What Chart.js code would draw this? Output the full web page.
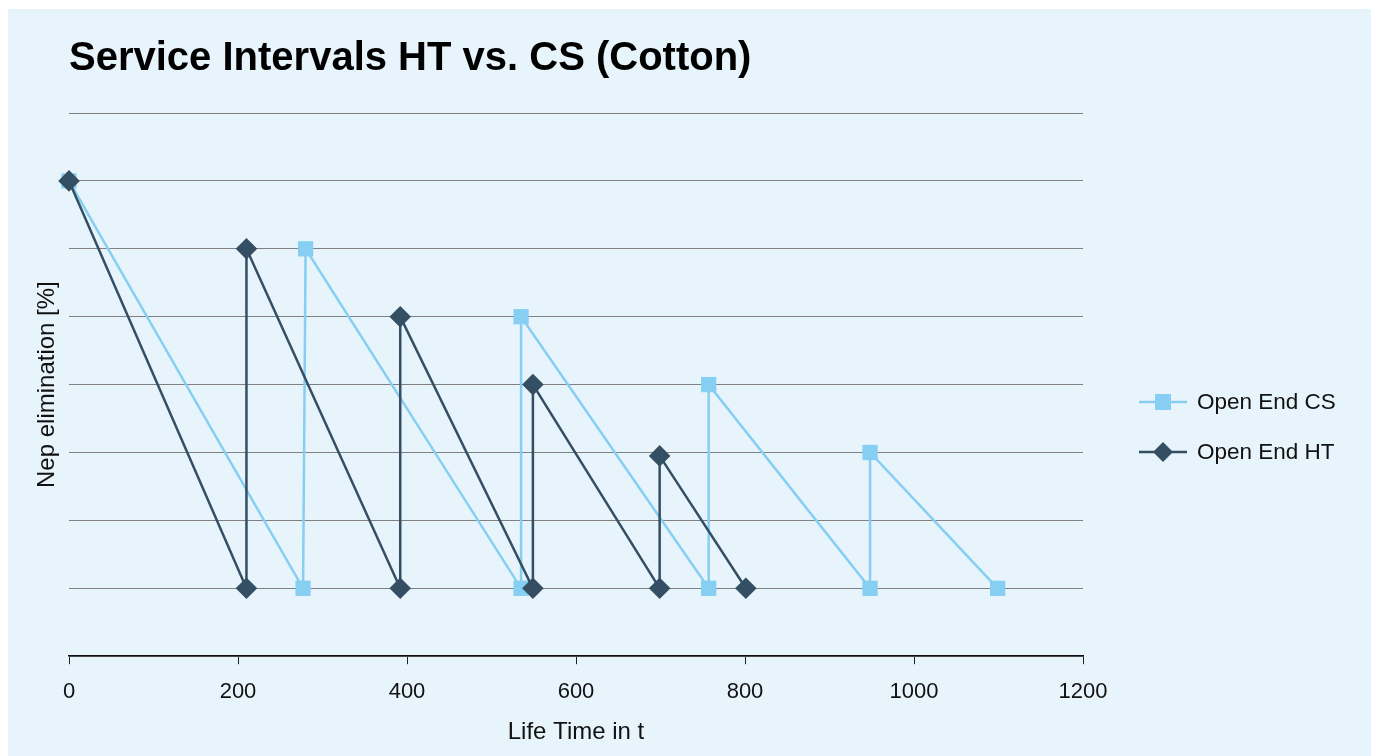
<!DOCTYPE html>
<html>
<head>
<meta charset="utf-8">
<script src="https://cdn.jsdelivr.net/npm/chart.js@4"></script>
<style>
  html, body { margin: 0; padding: 0; background: #ffffff; }
  #box { position: absolute; left: 8px; top: 9px; width: 1363px; height: 747px; background: #e8f4fc; }
</style>
</head>
<body>
<div id="box"><canvas id="chart"></canvas></div>
<script>
// data
const csX = [0, 277, 280, 535, 535, 757, 757, 948, 948, 1099];
const csY = [7, 1, 6, 1, 5, 1, 4, 1, 3, 1];
const htX = [0, 210, 210, 392, 392, 549, 549, 699, 699, 801];
const htY = [7, 1, 6, 1, 5, 1, 4, 1, 2.95, 1];
const seriesNames = ["Open End CS", "Open End HT"];
const xTicks = [0, 200, 400, 600, 800, 1000, 1200];

const csColor = "#86cff2";
const htColor = "#344f63";
const font = "'Liberation Sans', Arial, sans-serif";

const toPoints = (xs, ys) => xs.map((x, i) => ({ x: x, y: ys[i] }));

// legend with line + marker, drawn beside the plot
const sideLegend = {
    id: "sideLegend",
    afterDraw(chart) {
        const ctx = chart.ctx;
        const items = [
            { name: seriesNames[0], color: csColor, shape: "square", y: 393 },
            { name: seriesNames[1], color: htColor, shape: "diamond", y: 443 }
        ];
        ctx.save();
        items.forEach(it => {
            const cx = 1155;
            ctx.strokeStyle = it.color;
            ctx.lineWidth = 2.5;
            ctx.beginPath();
            ctx.moveTo(1131, it.y);
            ctx.lineTo(1179, it.y);
            ctx.stroke();
            ctx.fillStyle = it.color;
            ctx.beginPath();
            if (it.shape === "square") {
                ctx.rect(cx - 8, it.y - 8, 16, 16);
            } else {
                ctx.moveTo(cx, it.y - 10);
                ctx.lineTo(cx + 10, it.y);
                ctx.lineTo(cx, it.y + 10);
                ctx.lineTo(cx - 10, it.y);
                ctx.closePath();
            }
            ctx.fill();
            ctx.fillStyle = "#111";
            ctx.font = "22.5px " + font;
            ctx.textBaseline = "middle";
            ctx.textAlign = "left";
            ctx.fillText(it.name, 1189, it.y + 1);
        });
        ctx.restore();
    }
};

new Chart(document.getElementById("chart"), {
    type: "line",
    data: {
        datasets: [{
            label: seriesNames[0],
            data: toPoints(csX, csY),
            borderColor: csColor,
            backgroundColor: csColor,
            borderWidth: 2.5,
            pointStyle: "rect",
            pointRadius: 10.8,
            pointHoverRadius: 10.8,
            pointBorderWidth: 0,
            clip: false,
            order: 1
        }, {
            label: seriesNames[1],
            data: toPoints(htX, htY),
            borderColor: htColor,
            backgroundColor: htColor,
            borderWidth: 2.5,
            pointStyle: "rectRot",
            pointRadius: 10.8,
            pointHoverRadius: 10.8,
            pointBorderWidth: 0,
            clip: false,
            order: 0
        }]
    },
    options: {
        responsive: true,
        maintainAspectRatio: false,
        animation: false,
        events: [],
        layout: { padding: { left: 23, right: 288, top: 0, bottom: 0 } },
        plugins: {
            legend: { display: false },
            tooltip: { enabled: false },
            title: {
                display: true,
                text: "Service Intervals HT vs. CS (Cotton)",
                align: "start",
                fullSize: false,
                color: "#000",
                font: { family: font, size: 40, weight: "bold", lineHeight: 1.2 },
                padding: { top: 26, bottom: 30 }
            }
        },
        scales: {
            x: {
                type: "linear",
                min: 0,
                max: 1200,
                afterBuildTicks: axis => { axis.ticks = xTicks.map(v => ({ value: v })); },
                grid: { display: true, drawOnChartArea: false, drawTicks: true, tickLength: 8, color: "#222", lineWidth: 1 },
                border: { display: true, color: "#111", width: 1.5 },
                ticks: {
                    color: "#111",
                    padding: 15,
                    maxRotation: 0,
                    font: { family: font, size: 22 },
                    callback: v => String(v)
                },
                title: {
                    display: true,
                    text: "Life Time in t",
                    color: "#111",
                    font: { family: font, size: 24, lineHeight: 1.0 },
                    padding: { top: 0, bottom: 11.4 }
                }
            },
            y: {
                min: 0,
                max: 8,
                ticks: { display: false, stepSize: 1 },
                grid: { color: "#808080", lineWidth: 1, drawTicks: false },
                border: { display: false },
                title: {
                    display: true,
                    text: "Nep elimination [%]",
                    color: "#111",
                    font: { family: font, size: 24, lineHeight: 1.0 },
                    padding: { top: 4, bottom: 10 }
                }
            }
        }
    },
    plugins: [sideLegend]
});
</script>
</body>
</html>
